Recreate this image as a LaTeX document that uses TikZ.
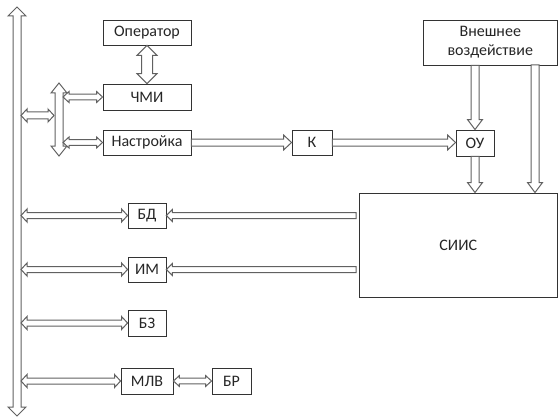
\documentclass[tikz,border=0pt]{standalone}
\usepackage{fontspec}
\setmainfont{Carlito}
\usetikzlibrary{calc}
\tikzset{
  box/.style={draw=black!80, line width=0.9pt, fill=white, inner sep=0pt, text=black!85, font=\fontsize{16}{19}\selectfont},
  blk/.style={draw=black!62, line width=1pt, fill=white, line join=miter}
}
% single-headed horizontal: start, tip, half shaft, half head, head length
\newcommand\sarrH[5]{\draw[blk] let \p1=(#1),\p2=(#2),\n1={sign(\x2-\x1)} in
  ({\x1},{\y1+#3}) -- ({\x2-(\n1)*#5},{\y1+#3}) -- ({\x2-(\n1)*#5},{\y1+#4}) -- ({\x2},{\y1})
  -- ({\x2-(\n1)*#5},{\y1-#4}) -- ({\x2-(\n1)*#5},{\y1-#3}) -- ({\x1},{\y1-#3}) -- cycle;}
\newcommand\sarrV[5]{\draw[blk] let \p1=(#1),\p2=(#2),\n1={sign(\y2-\y1)} in
  ({\x1+#3},{\y1}) -- ({\x1+#3},{\y2-(\n1)*#5}) -- ({\x1+#4},{\y2-(\n1)*#5}) -- ({\x1},{\y2})
  -- ({\x1-#4},{\y2-(\n1)*#5}) -- ({\x1-#3},{\y2-(\n1)*#5}) -- ({\x1-#3},{\y1}) -- cycle;}
\newcommand\darrH[5]{\draw[blk] let \p1=(#1),\p2=(#2),\n1={sign(\x2-\x1)} in
  ({\x1},{\y1}) -- ({\x1+(\n1)*#5},{\y1+#4}) -- ({\x1+(\n1)*#5},{\y1+#3}) -- ({\x2-(\n1)*#5},{\y1+#3})
  -- ({\x2-(\n1)*#5},{\y1+#4}) -- ({\x2},{\y1}) -- ({\x2-(\n1)*#5},{\y1-#4}) -- ({\x2-(\n1)*#5},{\y1-#3})
  -- ({\x1+(\n1)*#5},{\y1-#3}) -- ({\x1+(\n1)*#5},{\y1-#4}) -- cycle;}
\newcommand\darrV[5]{\draw[blk] let \p1=(#1),\p2=(#2),\n1={sign(\y2-\y1)} in
  ({\x1},{\y1}) -- ({\x1+#4},{\y1+(\n1)*#5}) -- ({\x1+#3},{\y1+(\n1)*#5}) -- ({\x1+#3},{\y2-(\n1)*#5})
  -- ({\x1+#4},{\y2-(\n1)*#5}) -- ({\x1},{\y2}) -- ({\x1-#4},{\y2-(\n1)*#5}) -- ({\x1-#3},{\y2-(\n1)*#5})
  -- ({\x1-#3},{\y1+(\n1)*#5}) -- ({\x1-#4},{\y1+(\n1)*#5}) -- cycle;}
\begin{document}
\begin{tikzpicture}[x=1pt,y=-1pt]
\useasboundingbox[fill=white] (0,0) rectangle (559,417);

% boxes
\node[box, minimum width=88pt, minimum height=25pt] (op) at (147,32.5) {Оператор};
\node[box, minimum width=88pt, minimum height=26pt] (hmi) at (147,97) {ЧМИ};
\node[box, minimum width=88pt, minimum height=25pt] (nast) at (147,142.5) {Настройка};
\node[box, minimum width=40pt, minimum height=25pt] (k) at (312,142.5) {К};
\node[box, minimum width=38pt, minimum height=26pt] (ou) at (475,143) {ОУ};
\node[box, minimum width=134.5pt, minimum height=45pt, align=center] (vn) at (490.25,42.5) {Внешнее\\воздействие};
\node[box, minimum width=198.5pt, minimum height=104pt] (siis) at (458.25,245) {СИИС};
\node[box, minimum width=38pt, minimum height=25pt] (bd) at (147,215.5) {БД};
\node[box, minimum width=38pt, minimum height=25pt] (im) at (147,269.5) {ИМ};
\node[box, minimum width=38pt, minimum height=26pt] (bz) at (147,323) {БЗ};
\node[box, minimum width=52pt, minimum height=26pt] (mlv) at (147,381) {МЛВ};
\node[box, minimum width=39pt, minimum height=26pt] (br) at (231.5,381) {БР};

% bus coordinates
\coordinate (busT) at (17,7);
\coordinate (busB) at (17,416);
\coordinate (busR) at (21,0);
\coordinate (sbT) at (59,83);
\coordinate (sbB) at (59,156);
\coordinate (sbL) at (54,0);
\coordinate (sbR) at (63,0);
\coordinate (busSb) at (21,115.5);
\coordinate (v2) at (535,65);

% main bus and small bus
\darrV{busT}{busB}{4pt}{9pt}{9pt}
\darrV{sbT}{sbB}{4pt}{8pt}{10pt}

% bus <-> small bus
\darrH{busSb}{busSb -| sbL}{3.5pt}{6.5pt}{6pt}
% small bus <-> ЧМИ, Настройка
\darrH{sbR |- hmi.west}{hmi.west}{2.8pt}{5.5pt}{6pt}
\darrH{sbR |- nast.west}{nast.west}{2.8pt}{5.5pt}{6pt}
% Оператор <-> ЧМИ
\darrV{op.south}{hmi.north}{5.5pt}{10pt}{10pt}

% Настройка -> К -> ОУ
\sarrH{nast.east}{k.west}{3.5pt}{7.5pt}{8pt}
\sarrH{k.east}{ou.west}{3.5pt}{7.5pt}{8pt}

% Внешнее воздействие -> ОУ, СИИС
\sarrV{vn.south -| ou.north}{ou.north}{4pt}{7.5pt}{10pt}
\sarrV{v2}{v2 |- siis.north}{4pt}{7.5pt}{10pt}
% ОУ -> СИИС
\sarrV{ou.south}{ou.south |- siis.north}{4pt}{7.5pt}{10pt}

% СИИС -> БД, ИМ
\sarrH{$(siis.west |- bd.east)+(-2.5,0)$}{bd.east}{3pt}{6pt}{6pt}
\sarrH{$(siis.west |- im.east)+(-2.5,0)$}{im.east}{3pt}{6pt}{6pt}

% bus <-> БД, ИМ, БЗ, МЛВ
\darrH{busR |- bd.west}{bd.west}{3pt}{6.5pt}{6pt}
\darrH{busR |- im.west}{im.west}{3pt}{6.5pt}{6pt}
\darrH{busR |- bz.west}{bz.west}{3pt}{6.5pt}{6pt}
\darrH{busR |- mlv.west}{mlv.west}{3pt}{6.5pt}{6pt}
% МЛВ <-> БР
\darrH{mlv.east}{br.west}{2.8pt}{5.5pt}{6pt}
\end{tikzpicture}
\end{document}
